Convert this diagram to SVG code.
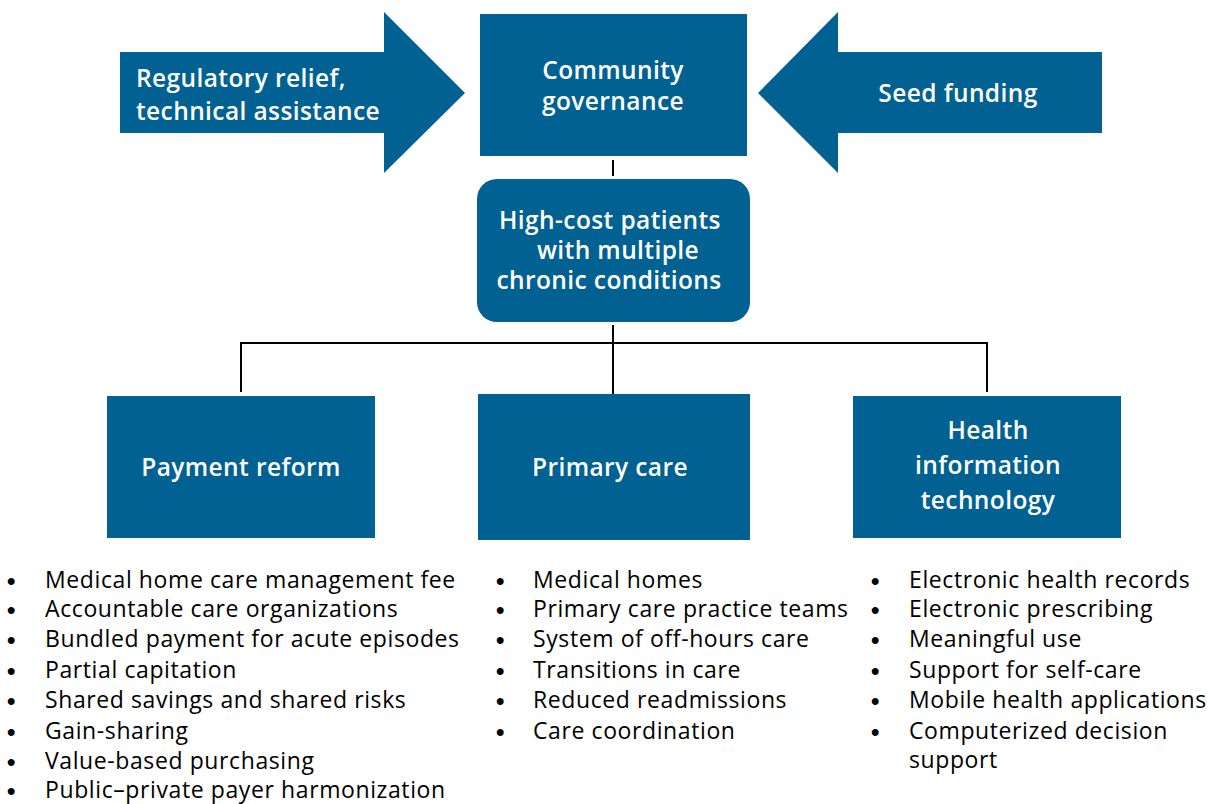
<svg xmlns="http://www.w3.org/2000/svg" width="1209" height="804" viewBox="0 0 1209 804">
<style>
.shape{fill:#006192}
.hd{font-family:"Open Sans","Liberation Sans",sans-serif;font-weight:600;font-size:24.5px;letter-spacing:0.4px;fill:#fff;text-anchor:middle}
.li{font-family:"Open Sans","Liberation Sans",sans-serif;font-size:23px;letter-spacing:0.6px;fill:#000}
.b{font-family:"Liberation Sans",sans-serif;font-weight:700;font-size:24px;fill:#000}
.conn{stroke:#000;stroke-width:2;fill:none}
</style>
<rect width="1209" height="804" fill="#fff"/>
<g id="connectors">
<line class="conn" x1="613" y1="160" x2="613" y2="176"/>
<line class="conn" x1="613" y1="325" x2="613" y2="395"/>
<polyline class="conn" points="241,392 241,343 987,343 987,392"/>
</g>
<g id="arrow-left">
<polygon class="shape" points="120,52 384,52 384,12 465,93 384,173 384,133 120,133"/>
<text class="hd" x="136" y="87" style="text-anchor:start">Regulatory relief,</text>
<text class="hd" x="136" y="120" style="text-anchor:start">technical assistance</text>
</g>
<g id="arrow-right">
<polygon class="shape" points="1102,52 838,52 838,12 758,93 838,173 838,133 1102,133"/>
<text class="hd" x="958" y="102">Seed funding</text>
</g>
<g id="community">
<rect class="shape" x="480" y="14" width="267" height="142"/>
<text class="hd" x="613" y="79">Community</text>
<text class="hd" x="613" y="110">governance</text>
</g>
<g id="patients">
<rect class="shape" x="477" y="179" width="273" height="143" rx="20"/>
<text class="hd" x="610" y="229">High-cost patients</text>
<text class="hd" x="618" y="259">with multiple</text>
<text class="hd" x="609" y="289">chronic conditions</text>
</g>
<g id="payment">
<rect class="shape" x="107" y="396" width="268" height="142"/>
<text class="hd" x="241" y="476">Payment reform</text>
</g>
<g id="primary">
<rect class="shape" x="478" y="394" width="272" height="146"/>
<text class="hd" x="610" y="476">Primary care</text>
</g>
<g id="hit">
<rect class="shape" x="853" y="396" width="268" height="142"/>
<text class="hd" x="988" y="439">Health</text>
<text class="hd" x="988" y="474">information</text>
<text class="hd" x="988" y="509">technology</text>
</g>
<g id="list-payment">
<text class="b" x="7" y="589">•</text><text class="li" x="45" y="588">Medical home care management fee</text>
<text class="b" x="7" y="618">•</text><text class="li" x="45" y="617">Accountable care organizations</text>
<text class="b" x="7" y="648">•</text><text class="li" x="45" y="647">Bundled payment for acute episodes</text>
<text class="b" x="7" y="679">•</text><text class="li" x="45" y="678">Partial capitation</text>
<text class="b" x="7" y="709">•</text><text class="li" x="45" y="708">Shared savings and shared risks</text>
<text class="b" x="7" y="740">•</text><text class="li" x="45" y="739">Gain-sharing</text>
<text class="b" x="7" y="770">•</text><text class="li" x="45" y="769">Value-based purchasing</text>
<text class="b" x="7" y="799">•</text><text class="li" x="45" y="798">Public–private payer harmonization</text>
</g>
<g id="list-primary">
<text class="b" x="496" y="589">•</text><text class="li" x="533" y="588">Medical homes</text>
<text class="b" x="496" y="618">•</text><text class="li" x="533" y="617">Primary care practice teams</text>
<text class="b" x="496" y="648">•</text><text class="li" x="533" y="647">System of off-hours care</text>
<text class="b" x="496" y="679">•</text><text class="li" x="533" y="678">Transitions in care</text>
<text class="b" x="496" y="709">•</text><text class="li" x="533" y="708">Reduced readmissions</text>
<text class="b" x="496" y="740">•</text><text class="li" x="533" y="739">Care coordination</text>
</g>
<g id="list-hit">
<text class="b" x="871" y="589">•</text><text class="li" x="909" y="588">Electronic health records</text>
<text class="b" x="871" y="618">•</text><text class="li" x="909" y="617">Electronic prescribing</text>
<text class="b" x="871" y="648">•</text><text class="li" x="909" y="647">Meaningful use</text>
<text class="b" x="871" y="679">•</text><text class="li" x="909" y="678">Support for self-care</text>
<text class="b" x="871" y="709">•</text><text class="li" x="909" y="708">Mobile health applications</text>
<text class="b" x="871" y="740">•</text><text class="li" x="909" y="739">Computerized decision</text>
<text class="li" x="909" y="768">support</text>
</g>
</svg>
